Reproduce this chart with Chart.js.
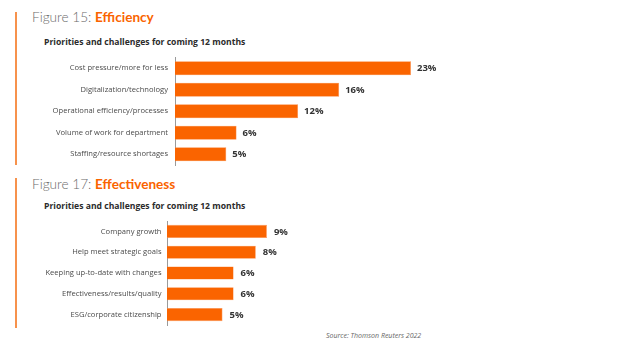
<!DOCTYPE html>
<html>
<head>
<meta charset="utf-8">
<script src="https://cdn.jsdelivr.net/npm/chart.js@4/dist/chart.umd.min.js"></script>
<style>
    body { margin: 0; background: #fff; width: 624px; height: 351px; position: relative; overflow: hidden; font-family: "Open Sans", sans-serif; }
    .rule { position: absolute; left: 15px; width: 2px; background: #f7924c; }
    .title { position: absolute; left: 32px; font-family: Lato, sans-serif; font-size: 13.6px; color: #6b6b6b; font-weight: 300; white-space: nowrap; }
    .title b { color: #fa6400; font-weight: 700; }
    .sub { position: absolute; left: 44px; font-size: 8.6px; font-weight: 700; color: #2b2b2b; white-space: nowrap; }
    .source { position: absolute; left: 326px; top: 331px; font-size: 7px; font-style: italic; color: #666; white-space: nowrap; }
    canvas { position: absolute; left: 0; }
</style>
</head>
<body>
<div class="rule" style="top:12px;height:153px"></div>
<div class="rule" style="top:178px;height:150px"></div>

<div class="title" style="top:9px">Figure 15: <b>Efficiency</b></div>
<div class="sub" style="top:36px">Priorities and challenges for coming 12 months</div>
<canvas id="efficiency-chart" width="624" height="120" style="top:50px"></canvas>

<div class="title" style="top:176px">Figure 17: <b>Effectiveness</b></div>
<div class="sub" style="top:200px">Priorities and challenges for coming 12 months</div>
<canvas id="effectiveness-chart" width="624" height="115" style="top:215px"></canvas>

<div class="source">Source: Thomson Reuters 2022</div>

<script>
const efficiencyLabels = ['Cost pressure/more for less', 'Digitalization/technology', 'Operational efficiency/processes', 'Volume of work for department', 'Staffing/resource shortages'];
const efficiencyValues = [23, 16, 12, 6, 5];

const effectivenessLabels = ['Company growth', 'Help meet strategic goals', 'Keeping up-to-date with changes', 'Effectiveness/results/quality', 'ESG/corporate citizenship'];
const effectivenessValues = [9, 8, 6, 6, 5];

const orange = '#fa6400';

//Percent labels at the end of each bar
const valueLabels = {
    id: 'valueLabels',
    afterDatasetsDraw(chart, args, opts) {
        const ctx = chart.ctx;
        const meta = chart.getDatasetMeta(0);
        ctx.save();
        ctx.font = '700 9.5px "Open Sans"';
        ctx.fillStyle = '#333';
        ctx.textBaseline = 'middle';
        meta.data.forEach((bar, i) => {
            ctx.fillText(chart.data.datasets[0].data[i] + '%', bar.x + opts.offset, bar.y + 0.5);
        });
        ctx.restore();
    }
};

function makeChart(id, labels, values, axisWidth, rightPad, top, bottom, barPct, offset, labelPad) {
    return new Chart(document.getElementById(id), {
        type: 'bar',
        data: {
            labels: labels,
            datasets: [{
                data: values,
                backgroundColor: orange,
                borderColor: '#fb8a45',
                borderWidth: 0.6,
                barPercentage: barPct,
                categoryPercentage: 1,
            }]
        },
        options: {
            indexAxis: 'y',
            responsive: false,
            animation: false,
            layout: { padding: { top: top, bottom: bottom, left: 0, right: rightPad } },
            plugins: {
                legend: { display: false },
                tooltip: { enabled: false },
                valueLabels: { offset: offset },
            },
            scales: {
                x: { display: false, min: 0, max: 25 },
                y: {
                    afterFit: (scale) => {
                        scale.width = axisWidth;
                        scale.paddingTop = 0;
                        scale.paddingBottom = 0;
                    },
                    grid: { display: false, drawTicks: false },
                    border: { display: true, color: '#9a9a9a', width: 1 },
                    ticks: { color: '#4a4a4a', padding: labelPad, font: { family: 'Open Sans', size: 7.6 } },
                }
            }
        },
        plugins: [valueLabels]
    });
}

makeChart('efficiency-chart', efficiencyLabels, efficiencyValues, 175, 192.5, 7.5, 5, 0.65, 6, 7);
makeChart('effectiveness-chart', effectivenessLabels, effectivenessValues, 167, 179.5, 6, 5, 0.63, 7, 5.5);
</script>
</body>
</html>
